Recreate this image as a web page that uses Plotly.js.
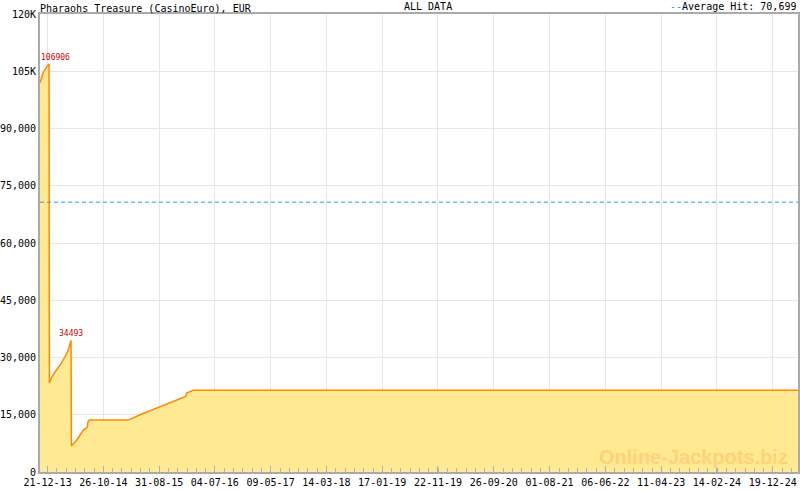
<!DOCTYPE html>
<html>
<head>
<meta charset="utf-8">
<script src="https://cdn.plot.ly/plotly-3.0.1.min.js"></script>
<style>html,body{margin:0;padding:0;background:#fff;}#chart{width:800px;height:490px;}</style>
</head>
<body>
<div id="chart"></div>
<script>
// Data
var dates = ['2013-11-09','2013-11-15','2013-11-26','2013-12-07','2013-12-29','2013-12-31',
  '2014-01-10','2014-01-31','2014-02-28','2014-03-28','2014-04-13','2014-04-30','2014-05-02',
  '2014-06-01','2014-07-07','2014-07-29','2014-08-02','2014-08-10','2015-03-12','2015-05-17',
  '2015-09-22','2015-12-07','2016-01-25','2016-01-30','2016-03-06','2025-05-08'];
var values = [102000,103000,104500,105500,106906,23300,
  24500,26200,28000,30200,31800,34493,6800,
  8400,11000,11700,13200,13600,13600,15000,
  17500,18900,19800,20700,21400,21400];
var averageHit = 70699;
var peakDates = ['2013-12-29','2014-04-30'];
var peakValues = [106906,34493];
var xTickVals = ['2013-12-21','2014-10-26','2015-08-31','2016-07-04','2017-05-09','2018-03-14',
  '2019-01-17','2019-11-22','2020-09-26','2021-08-01','2022-06-06','2023-04-11','2024-02-14','2024-12-19'];
var xTickText = ['21-12-13','26-10-14','31-08-15','04-07-16','09-05-17','14-03-18',
  '17-01-19','22-11-19','26-09-20','01-08-21','06-06-22','11-04-23','14-02-24','19-12-24'];
var yTickVals = [0,15000,30000,45000,60000,75000,90000,105000,120000];
var yTickText = ['0','15,000','30,000','45,000','60,000','75,000','90,000','105K','120K'];
var xRange = ['2013-11-09','2025-05-08'];

var mono = 'DejaVu Sans Mono, monospace';
var DAY = 86400000;

var traces = [
  {
    x: dates, y: values, type: 'scatter', mode: 'lines',
    fill: 'tozeroy', fillcolor: '#FFE992',
    line: {color: '#FF8A00', width: 1.5},
    hoverinfo: 'skip', showlegend: false
  },
  {
    x: xRange, y: [averageHit, averageHit], type: 'scatter', mode: 'lines',
    line: {color: '#2F9BDE', width: 1, dash: '4px,3px'},
    hoverinfo: 'skip', showlegend: false
  }
];

var annotations = [
  {text: 'ALL DATA', xref: 'paper', yref: 'paper', x: 0.512, y: 1, yanchor: 'bottom', yshift: 0,
   showarrow: false, font: {family: mono, size: 10, color: '#000'}},
  {text: '<span style="color:#2F9BDE">--</span>Average Hit: ' + averageHit.toLocaleString('en-US'),
   xref: 'paper', yref: 'paper', x: 1, y: 1, xanchor: 'right', yanchor: 'bottom',
   showarrow: false, font: {family: mono, size: 10, color: '#000'}},
  {text: 'Online-Jackpots.biz', xref: 'paper', yref: 'paper', x: 0.989, y: 0.033,
   xanchor: 'right', yanchor: 'middle', showarrow: false,
   font: {family: 'Liberation Sans, Arial, sans-serif', size: 20, color: '#FFD27A', weight: 'bold'}}
];
var peakShift = [6, 0];
for (var i = 0; i < peakDates.length; i++) {
  annotations.push({text: String(peakValues[i]), x: peakDates[i], y: peakValues[i],
    xref: 'x', yref: 'y', xanchor: 'center', yanchor: 'bottom', showarrow: false,
    xshift: peakShift[i],
    font: {family: mono, size: 8, color: '#D00000'}});
}

var layout = {
  width: 800, height: 490,
  margin: {l: 40, r: 2, t: 14, b: 18, pad: 0},
  paper_bgcolor: '#fff', plot_bgcolor: '#fff',
  title: {text: 'Pharaohs Treasure (CasinoEuro), EUR', xref: 'paper', x: 0, xanchor: 'left',
          yref: 'container', y: 1 - 8/490, yanchor: 'middle',
          font: {family: mono, size: 10, color: '#000'}},
  showlegend: false,
  xaxis: {
    type: 'date', range: xRange, tickmode: 'array', tickvals: xTickVals, ticktext: xTickText,
    ticks: 'inside', ticklen: 6, tickcolor: '#A6AECB', tickwidth: 1,
    showgrid: true, gridcolor: '#E6E6E6', gridwidth: 1,
    showline: true, linecolor: '#AAAAAA', linewidth: 2, mirror: true,
    tickfont: {family: mono, size: 10, color: '#000'}, zeroline: false,
    minor: {tick0: '2013-12-21', dtick: 309 * DAY / 6, ticks: 'inside', ticklen: 4,
            tickcolor: '#A6AECB', showgrid: false}
  },
  yaxis: {
    range: [0, 120000], tickmode: 'array', tickvals: yTickVals, ticktext: yTickText,
    ticks: '', showgrid: true, gridcolor: '#E6E6E6', gridwidth: 1,
    showline: true, linecolor: '#AAAAAA', linewidth: 2, mirror: true,
    tickfont: {family: mono, size: 10, color: '#000'}, zeroline: false
  },
  annotations: annotations
};

Plotly.newPlot('chart', traces, layout, {staticPlot: true, displayModeBar: false});
</script>
</body>
</html>
